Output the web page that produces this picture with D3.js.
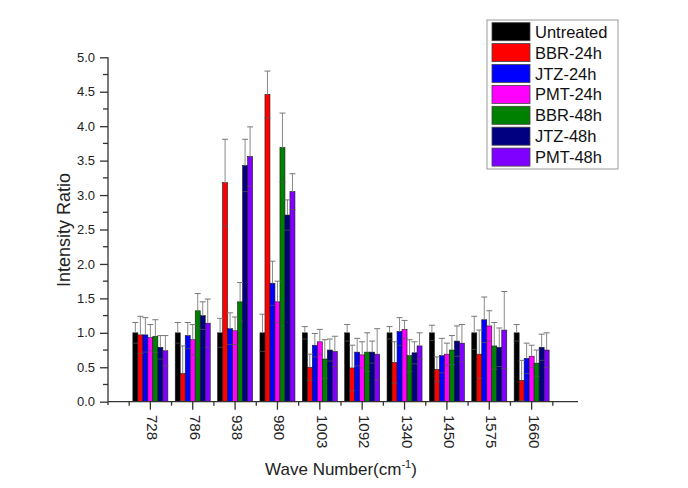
<!DOCTYPE html>
<html>
<head>
<meta charset="utf-8">
<script src="https://cdn.jsdelivr.net/npm/d3@7"></script>
<style>
  html, body { margin: 0; padding: 0; background: #fff; }
  svg { display: block; font-family: "Liberation Sans", Arial, sans-serif; }
</style>
</head>
<body>
<svg id="chart" width="688" height="488"></svg>
<script>
const categories = ["728","786","938","980","1003","1092","1340","1450","1575","1660"];
const seriesNames = ["Untreated","BBR-24h","JTZ-24h","PMT-24h","BBR-48h","JTZ-48h","PMT-48h"];
const seriesColors = ["#000000","#ff0000","#0000ff","#ff00ff","#008000","#000080","#8000ff"];

const untreated    = [1.00, 1.00, 1.00, 1.00, 1.00, 1.00, 1.00, 1.00, 1.00, 1.00];
const untreatedErr = [0.15, 0.15, 0.21, 0.27, 0.09, 0.12, 0.09, 0.11, 0.24, 0.12];
const bbr24        = [0.97, 0.41, 3.18, 4.46, 0.50, 0.49, 0.57, 0.47, 0.69, 0.31];
const bbr24Err     = [0.27, 0.40, 0.63, 0.34, 0.19, 0.33, 0.30, 0.18, 0.35, 0.29];
const jtz24        = [0.97, 0.96, 1.06, 1.72, 0.82, 0.72, 1.02, 0.67, 1.19, 0.63];
const jtz24Err     = [0.25, 0.19, 0.23, 0.32, 0.17, 0.20, 0.20, 0.25, 0.33, 0.22];
const pmt24        = [0.93, 0.90, 1.03, 1.45, 0.87, 0.68, 1.05, 0.69, 1.10, 0.66];
const pmt24Err     = [0.19, 0.22, 0.20, 0.30, 0.18, 0.19, 0.13, 0.16, 0.22, 0.16];
const bbr48        = [0.95, 1.32, 1.45, 3.69, 0.62, 0.72, 0.67, 0.75, 0.81, 0.56];
const bbr48Err     = [0.24, 0.25, 0.28, 0.50, 0.28, 0.28, 0.23, 0.21, 0.34, 0.19];
const jtz48        = [0.79, 1.25, 3.43, 2.71, 0.75, 0.72, 0.71, 0.88, 0.79, 0.79];
const jtz48Err     = [0.17, 0.20, 0.38, 0.22, 0.16, 0.16, 0.16, 0.22, 0.28, 0.19];
const pmt48        = [0.74, 1.14, 3.56, 3.05, 0.73, 0.69, 0.81, 0.85, 1.04, 0.75];
const pmt48Err     = [0.22, 0.35, 0.43, 0.26, 0.22, 0.37, 0.19, 0.27, 0.56, 0.25];

const yTicks = [0, 0.5, 1.0, 1.5, 2.0, 2.5, 3.0, 3.5, 4.0, 4.5, 5.0];

const seriesValues = [untreated, bbr24, jtz24, pmt24, bbr48, jtz48, pmt48];
const seriesErrors = [untreatedErr, bbr24Err, jtz24Err, pmt24Err, bbr48Err, jtz48Err, pmt48Err];

const svg = d3.select("#chart");
const x = d3.scaleLinear().domain([0, categories.length + 1]).range([108, 574]);
const y = d3.scaleLinear().domain([0, 5]).range([401.7, 57.3]);
const barW = 5;
const nS = seriesNames.length;

// bars
const rows = [];
categories.forEach((c, i) => {
  seriesNames.forEach((s, j) => {
    rows.push({i, j, v: seriesValues[j][i], e: seriesErrors[j][i]});
  });
});
const bx = d => x(d.i + 1) - nS * barW / 2 + d.j * barW;

svg.append("g").selectAll("rect").data(rows).join("rect")
  .attr("x", bx)
  .attr("y", d => y(d.v))
  .attr("width", barW)
  .attr("height", d => y(0) - y(d.v))
  .attr("fill", d => seriesColors[d.j])
  .attr("stroke", "#1a1a1a")
  .attr("stroke-width", 0.6);

// error bars
const eg = svg.append("g").attr("stroke", "#8a8a8a").attr("stroke-width", 1);
eg.selectAll("line.v").data(rows).join("line").attr("class", "v")
  .attr("x1", d => bx(d) + barW / 2).attr("x2", d => bx(d) + barW / 2)
  .attr("y1", d => y(d.v + d.e)).attr("y2", d => y(d.v));
eg.selectAll("line.t").data(rows).join("line").attr("class", "t")
  .attr("x1", d => bx(d) + barW / 2 - 3).attr("x2", d => bx(d) + barW / 2 + 3)
  .attr("y1", d => y(d.v + d.e)).attr("y2", d => y(d.v + d.e))
  .attr("stroke", "#777");
eg.selectAll("line.b").data(rows).join("line").attr("class", "b")
  .attr("x1", d => bx(d) + barW / 2 - 3).attr("x2", d => bx(d) + barW / 2 + 3)
  .attr("y1", d => y(Math.max(0, d.v - d.e))).attr("y2", d => y(Math.max(0, d.v - d.e)))
  .attr("stroke", "#555").attr("stroke-opacity", 0.7);

// y axis
const yAxis = d3.axisLeft(y).tickValues(yTicks).tickFormat(d3.format(".1f")).tickSize(8).tickPadding(5);
const yg = svg.append("g").attr("transform", "translate(108,0)").call(yAxis);
yg.select(".domain").attr("stroke", "#333").attr("stroke-width", 1.3).attr("d", "M0,57.3V405");
yg.selectAll(".tick line").attr("stroke", "#333").attr("stroke-width", 1.3);
yg.selectAll(".tick text").attr("font-size", 13).attr("fill", "#222")
  .attr("font-family", "Liberation Sans, Arial, sans-serif");
// y minor ticks
const yMinor = d3.range(0.25, 5, 0.5);
svg.append("g").selectAll("line").data(yMinor).join("line")
  .attr("x1", 103).attr("x2", 108)
  .attr("y1", d => y(d)).attr("y2", d => y(d))
  .attr("stroke", "#333").attr("stroke-width", 1.3);

// x axis
const xg = svg.append("g");
xg.append("line").attr("x1", 108).attr("x2", x(categories.length + 1) + 4)
  .attr("y1", y(0)).attr("y2", y(0)).attr("stroke", "#333").attr("stroke-width", 1.3);
xg.selectAll("line.maj").data(categories).join("line").attr("class", "maj")
  .attr("x1", (c, i) => x(i + 1)).attr("x2", (c, i) => x(i + 1))
  .attr("y1", y(0)).attr("y2", y(0) + 8)
  .attr("stroke", "#333").attr("stroke-width", 1.3);
const xMinor = d3.range(0.5, categories.length + 1, 1);
xg.selectAll("line.min").data(xMinor).join("line").attr("class", "min")
  .attr("x1", d => x(d)).attr("x2", d => x(d))
  .attr("y1", y(0)).attr("y2", y(0) + 4)
  .attr("stroke", "#333").attr("stroke-width", 1.3);
xg.selectAll("text").data(categories).join("text")
  .attr("transform", (c, i) => `translate(${x(i + 1) - 3},415) rotate(90)`)
  .attr("text-anchor", "start")
  .attr("font-size", 15)
  .attr("fill", "#222")
  .text(c => c);

// axis titles
svg.append("text")
  .attr("transform", "translate(70,230) rotate(-90)")
  .attr("text-anchor", "middle")
  .attr("font-size", 18)
  .attr("fill", "#222")
  .text("Intensity Ratio");

const xt = svg.append("text")
  .attr("x", 341).attr("y", 475)
  .attr("text-anchor", "middle")
  .attr("font-size", 17)
  .attr("fill", "#222");
xt.append("tspan").text("Wave Number(cm");
xt.append("tspan").attr("font-size", 11).attr("dy", -7).text("-1");
xt.append("tspan").attr("dy", 7).text(")");

// legend
const lg = svg.append("g");
lg.append("rect").attr("x", 487).attr("y", 20).attr("width", 131).attr("height", 149)
  .attr("fill", "#fff").attr("stroke", "#999").attr("stroke-width", 1);
const li = lg.selectAll("g").data(seriesNames).join("g")
  .attr("transform", (s, k) => `translate(492,${22.7 + k * 20.9})`);
li.append("rect").attr("width", 38).attr("height", 18)
  .attr("fill", (s, k) => seriesColors[k]).attr("stroke", "#444").attr("stroke-width", 0.8);
li.append("text").attr("x", 43).attr("y", 15)
  .attr("font-size", 16.5).attr("fill", "#111").text(s => s);
</script>
</body>
</html>
